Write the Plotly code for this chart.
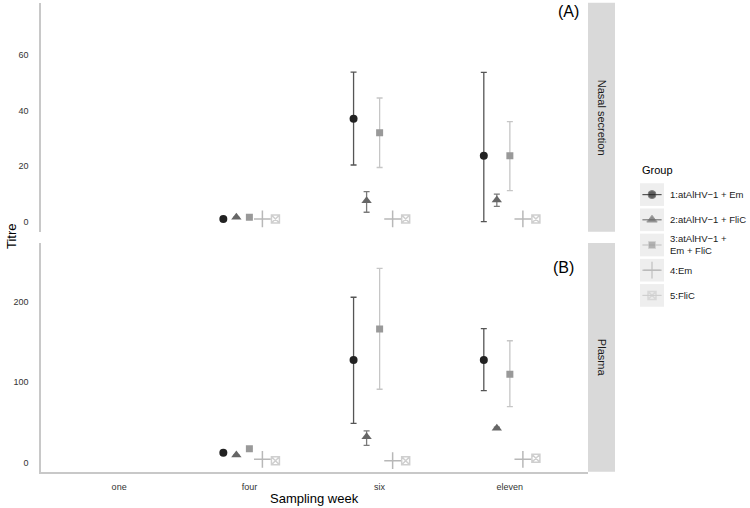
import plotly.graph_objects as go

# ---------------- data ----------------
weeks = ["one", "four", "six", "eleven"]
data_weeks = ["four", "six", "eleven"]
groups = ["1:atAlHV\u22121 + Em", "2:atAlHV\u22121 + FliC", "3:atAlHV\u22121 +<br>Em + FliC", "4:Em", "5:FliC"]

# Nasal secretion (A)
nasal_mean = [
    [1.0, 37.0, 23.7],
    [1.6, 7.5, 7.8],
    [1.6, 32.0, 23.7],
    [1.0, 1.0, 1.0],
    [1.0, 1.0, 1.0],
]
nasal_upper = [
    [None, 53.8, 53.7],
    [None, 10.8, 9.9],
    [None, 44.5, 36.0],
    [None, None, None],
    [None, None, None],
]
nasal_lower = [
    [None, 20.4, 0.0],
    [None, 3.4, 5.5],
    [None, 19.5, 11.2],
    [None, None, None],
    [None, None, None],
]

# Plasma (B)
plasma_mean = [
    [12.4, 127.6, 127.6],
    [9.6, 32.3, 42.7],
    [17.4, 166.0, 110.0],
    [4.2, 2.5, 4.2],
    [2.5, 2.5, 5.5],
]
plasma_upper = [
    [None, 205.5, 166.5],
    [None, 39.4, 44.0],
    [None, 241.5, 151.5],
    [None, None, None],
    [None, None, None],
]
plasma_lower = [
    [None, 48.9, 89.4],
    [None, 21.6, 41.4],
    [None, 91.2, 69.6],
    [None, None, None],
    [None, None, None],
]

nasal_ticks = [0, 20, 40, 60]
plasma_ticks = [0, 100, 200]

# ---------------- style ----------------
W, H = 750, 508
marker_colors = ["#222222", "#666666", "#999999", "#b8b8b8", "#cfcfcf"]
bar_colors = ["#555555", "#7a7a7a", "#c6c6c6", "#cccccc", "#dddddd"]
symbols = ["circle", "triangle-up", "square", "cross-thin-open", "square-x-open"]
sizes = [8, 9, 7, 12, 8]
dodge = [-0.2, -0.1, 0.0, 0.1, 0.2]
FONT = "Liberation Sans, Arial, sans-serif"


def px_x(p):
    return p / W


def px_y(p):
    return 1 - p / H


fig = go.Figure()


def add_panel(means, upper, lower, xa, ya):
    for g in range(len(groups)):
        xs = [weeks.index(w) + dodge[g] for w in data_weeks]
        ys = means[g]
        plus = [(u - m) if u is not None else None for u, m in zip(upper[g], ys)]
        minus = [(m - l) if l is not None else None for l, m in zip(lower[g], ys)]
        has_err = any(v is not None for v in plus)
        mk = dict(color=marker_colors[g], size=sizes[g], symbol=symbols[g])
        if "open" in symbols[g]:
            mk["line"] = dict(color=marker_colors[g], width=1.5)
        fig.add_trace(go.Scatter(
            x=xs, y=ys, mode="markers", xaxis=xa, yaxis=ya,
            marker=mk, showlegend=False, hoverinfo="skip",
            error_y=dict(type="data", symmetric=False,
                         array=[v if v is not None else float("nan") for v in plus],
                         arrayminus=[v if v is not None else float("nan") for v in minus],
                         color=bar_colors[g], thickness=1.3, width=3,
                         visible=has_err),
        ))


add_panel(nasal_mean, nasal_upper, nasal_lower, "x2", "y2")
add_panel(plasma_mean, plasma_upper, plasma_lower, "x", "y")

# ---------------- legend (built on its own small axis) ----------------
for g in range(len(groups)):
    m = dict(color=marker_colors[g], size=[0, sizes[g], 0], symbol=symbols[g])
    if "open" in symbols[g]:
        m["line"] = dict(color=marker_colors[g], width=1.5)
    fig.add_trace(go.Scatter(
        x=[0.1, 0.5, 0.9], y=[groups[g]] * 3, mode="lines+markers",
        xaxis="x3", yaxis="y3", showlegend=False, hoverinfo="skip",
        line=dict(color=bar_colors[g] if g < 3 else marker_colors[g], width=1.2),
        marker=m,
    ))

shapes = []
for g in range(len(groups)):
    shapes.append(dict(type="rect", xref="x3", yref="y3", x0=0, x1=1,
                       y0=g - 0.45, y1=g + 0.45, fillcolor="#eeeeee",
                       line=dict(width=0), layer="below"))

# panel geometry in pixels
panel_l, panel_r = 41, 588
top_t, top_b = 2.7, 231.7
bot_t, bot_b = 243, 471.7
strip_l, strip_r = 588, 615

for (t, b) in [(top_t, top_b), (bot_t, bot_b)]:
    shapes.append(dict(type="rect", xref="paper", yref="paper",
                       x0=px_x(strip_l), x1=px_x(strip_r), y0=px_y(b), y1=px_y(t),
                       fillcolor="#d9d9d9", line=dict(width=0), layer="below"))


def ann(text, x, y, size, angle=0, xanchor="center", color="#000000"):
    return dict(text=text, x=px_x(x), y=px_y(y), xref="paper", yref="paper",
                showarrow=False, textangle=angle, xanchor=xanchor, yanchor="middle",
                font=dict(size=size, color=color, family=FONT))


annotations = [
    ann("Nasal secretion", (strip_l + strip_r) / 2, (top_t + top_b) / 2, 11, 90, color="#1a1a1a"),
    ann("Plasma", (strip_l + strip_r) / 2, (bot_t + bot_b) / 2, 11, 90, color="#1a1a1a"),
    ann("(A)", 568, 12, 16),
    ann("(B)", 563, 267, 16),
    ann("Titre", 11, 236, 13, -90),
    ann("Sampling week", 314, 498, 13),
    ann("Group", 640, 170, 11, xanchor="left"),
]

axis_common = dict(showgrid=False, zeroline=False, ticks="",
                   tickfont=dict(size=9, color="#333333", family=FONT))
line_style = dict(showline=True, linecolor="#c8c8c8", linewidth=1.5)

fig.update_layout(
    width=W, height=H,
    margin=dict(l=0, r=0, t=0, b=0),
    paper_bgcolor="white", plot_bgcolor="white",
    showlegend=False,
    font=dict(family=FONT),
    shapes=shapes,
    annotations=annotations,
    xaxis=dict(domain=[px_x(panel_l), px_x(panel_r)], range=[-0.6, 3.6], anchor="y",
               tickvals=list(range(len(weeks))), ticktext=weeks, ticklabelstandoff=6,
               **axis_common, **line_style),
    yaxis=dict(domain=[px_y(bot_b), px_y(bot_t)], range=[-11.2, 272.9], anchor="x",
               tickvals=plasma_ticks, ticklabelstandoff=9, **axis_common, **line_style),
    xaxis2=dict(domain=[px_x(panel_l), px_x(panel_r)], range=[-0.6, 3.6], anchor="y2",
                showticklabels=False, showline=False, showgrid=False, zeroline=False),
    yaxis2=dict(domain=[px_y(top_b), px_y(top_t)], range=[-3.6, 78.8], anchor="x2",
                tickvals=nasal_ticks, ticklabelstandoff=9, **axis_common, **line_style),
    xaxis3=dict(domain=[px_x(640), px_x(664)], range=[0, 1], anchor="y3",
                visible=False, fixedrange=True),
    yaxis3=dict(domain=[px_y(308), px_y(182)], range=[len(groups) - 0.5, -0.5], anchor="x3",
                type="category", categoryorder="array", categoryarray=groups,
                side="right", showgrid=False, zeroline=False, showline=False, ticks="",
                ticklabelstandoff=5,
                tickfont=dict(size=9.5, color="#1a1a1a", family=FONT)),
)

fig.write_html("out.html", config={"displayModeBar": False},
               post_script="document.body.style.margin='0';document.body.style.overflow='hidden';")
